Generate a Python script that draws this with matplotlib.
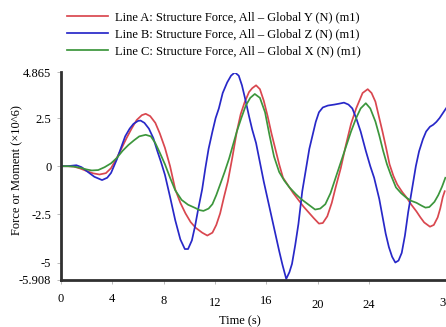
import matplotlib
matplotlib.use("Agg")
import matplotlib.pyplot as plt
from matplotlib.transforms import ScaledTranslation

plt.rcParams['font.family'] = ['Liberation Serif', 'DejaVu Serif']

# Line A (red): Global Y
t_a = [0, 0.5, 1.0, 1.5, 2.0, 2.5, 3.0, 3.5, 3.9, 4.35, 4.7, 5.1, 5.5, 5.9, 6.3, 6.6,
       6.95, 7.35, 7.7, 8.1, 8.5, 8.9, 9.3, 9.7, 10.1, 10.5, 11.0, 11.4, 11.8, 12.1,
       12.4, 12.7, 13.0, 13.35, 13.7, 14.0, 14.3, 14.65, 14.9, 15.2, 15.5, 15.8, 16.1,
       16.4, 16.7, 17.0, 17.3, 17.7, 18.1, 18.5, 18.9, 19.3, 19.7, 20.1, 20.4, 20.75,
       21.1, 21.4, 21.8, 22.2, 22.6, 23.0, 23.5, 23.9, 24.2, 24.5, 24.8, 25.05, 25.35,
       25.6, 25.9, 26.2, 26.6, 26.9, 27.3, 27.7, 28.0, 28.3, 28.75, 29.05, 29.35, 29.55,
       29.75, 29.9]
v_a = [0, 0, -0.02, -0.12, -0.25, -0.37, -0.43, -0.36, -0.1, 0.43, 0.9, 1.45, 1.95,
       2.4, 2.65, 2.72, 2.6, 2.25, 1.7, 0.95, 0.0, -1.2, -1.9, -2.45, -2.9, -3.2, -3.45,
       -3.6, -3.45, -3.05, -2.45, -1.6, -0.8, 0.45, 1.8, 2.7, 3.3, 3.85, 4.05, 4.2, 4.0,
       3.4, 2.6, 1.7, 0.9, 0.1, -0.6, -1.0, -1.4, -1.75, -2.1, -2.4, -2.7, -2.98, -2.95,
       -2.6, -1.9, -1.1, -0.1, 1.1, 2.2, 3.0, 3.8, 4.0, 3.8, 3.35, 2.5, 1.8, 0.9, 0.1,
       -0.5, -0.95, -1.35, -1.6, -2.0, -2.35, -2.65, -2.92, -3.14, -3.05, -2.66, -2.2,
       -1.6, -1.3]

# Line B (blue): Global Z
t_b = [0, 0.5, 0.9, 1.2, 1.6, 2.1, 2.6, 3.2, 3.6, 3.9, 4.35, 4.7, 5.0, 5.35, 5.65, 6.0,
       6.2, 6.5, 6.85, 7.2, 7.5, 7.8, 8.1, 8.5, 8.9, 9.3, 9.65, 9.9, 10.2, 10.45, 10.7,
       11.0, 11.25, 11.5, 11.8, 12.05, 12.3, 12.6, 12.95, 13.25, 13.55, 13.85, 14.1,
       14.35, 14.65, 14.9, 15.2, 15.5, 15.8, 16.1, 16.4, 16.7, 17.0, 17.25, 17.55, 17.8,
       18.0, 18.25, 18.5, 18.8, 19.05, 19.35, 19.6, 19.85, 20.1, 20.4, 20.8, 21.3, 21.7,
       22.05, 22.4, 22.7, 23.0, 23.35, 23.75, 24.1, 24.4, 24.8, 25.05, 25.3, 25.55, 25.8,
       26.05, 26.3, 26.55, 26.8, 27.05, 27.4, 27.65, 27.9, 28.2, 28.45, 28.75, 29.0,
       29.25, 29.5, 29.75, 30.0]
v_b = [0, 0, 0.03, 0.05, -0.05, -0.3, -0.55, -0.72, -0.6, -0.35, 0.35, 1.0, 1.55, 1.95,
       2.2, 2.35, 2.37, 2.25, 1.95, 1.45, 0.8, 0.2, -0.45, -1.6, -2.8, -3.8, -4.3, -4.3,
       -3.85, -3.1, -2.2, -1.2, -0.1, 0.9, 1.8, 2.5, 3.0, 3.8, 4.35, 4.7, 4.87, 4.7, 4.2,
       3.5, 2.6, 1.9, 1.2, 0.2, -0.8, -1.7, -2.6, -3.5, -4.4, -5.1, -5.85, -5.5, -5.07,
       -4.1, -3.0, -1.3, -0.3, 0.9, 1.6, 2.3, 2.8, 3.05, 3.15, 3.2, 3.25, 3.3, 3.2, 3.0,
       2.5, 1.8, 0.8, 0.0, -0.6, -1.7, -2.6, -3.5, -4.2, -4.7, -5.0, -4.9, -4.5, -3.6,
       -2.4, -1.0, 0.0, 0.77, 1.4, 1.8, 2.05, 2.15, 2.3, 2.5, 2.75, 3.0]

# Line C (green): Global X
t_c = [0, 0.5, 1.0, 1.5, 2.0, 2.4, 2.9, 3.4, 3.9, 4.35, 4.8, 5.25, 5.7, 6.1, 6.6, 7.0,
       7.35, 7.7, 8.1, 8.5, 8.9, 9.4, 9.9, 10.4, 10.8, 11.1, 11.5, 11.8, 12.1, 12.4,
       12.75, 13.1, 13.4, 13.7, 14.05, 14.4, 14.75, 15.1, 15.5, 15.9, 16.25, 16.6, 17.0,
       17.4, 17.8, 18.3, 18.7, 19.1, 19.5, 19.8, 20.2, 20.6, 21.0, 21.4, 21.8, 22.2,
       22.6, 23.0, 23.35, 23.75, 24.1, 24.5, 24.8, 25.1, 25.4, 25.7, 26.1, 26.5, 26.9,
       27.3, 27.7, 28.1, 28.4, 28.7, 29.1, 29.4, 29.7, 29.95]
v_c = [0, 0, -0.02, -0.08, -0.17, -0.22, -0.2, -0.05, 0.15, 0.43, 0.8, 1.1, 1.35, 1.55,
       1.63, 1.55, 1.2, 0.7, 0.1, -0.6, -1.25, -1.75, -2.0, -2.15, -2.28, -2.32, -2.2,
       -1.97, -1.5, -0.95, -0.3, 0.4, 1.1, 1.8, 2.5, 3.15, 3.55, 3.75, 3.55, 2.8, 1.6,
       0.5, -0.3, -0.75, -1.1, -1.45, -1.7, -1.9, -2.1, -2.25, -2.2, -1.97, -1.4, -0.6,
       0.2, 1.0, 1.8, 2.5, 3.0, 3.27, 3.0, 2.32, 1.6, 0.8, 0.1, -0.45, -1.1, -1.4, -1.63,
       -1.8, -1.9, -2.05, -2.15, -2.12, -1.85, -1.5, -1.05, -0.6]

labels = ["Line A: Structure Force, All \u2013 Global Y (N) (m1)",
          "Line B: Structure Force, All \u2013 Global Z (N) (m1)",
          "Line C: Structure Force, All \u2013 Global X (N) (m1)"]
colors = ["#d9474f", "#2828c8", "#3c963c"]

x_ticks = [0, 4, 8, 12, 16, 20, 24, 30]
y_ticks = [4.865, 2.5, 0, -2.5, -5, -5.908]
y_ticklabels = ["4.865", "2.5", "0", "-2.5", "-5", "-5.908"]

fig = plt.figure(figsize=(4.46, 3.27), dpi=100)
ax = fig.add_axes([61 / 446, 1 - 280 / 327, 385 / 446, 207.5 / 327])

lines = []
for t, v, c, lab in zip([t_a, t_b, t_c], [v_a, v_b, v_c], colors, labels):
    ln, = ax.plot(t, v, color=c, lw=1.25, label=lab, solid_joinstyle='round')
    lines.append(ln)

ax.set_xlim(0, 30)
ax.set_ylim(-5.908, 4.865)
ax.set_xticks(x_ticks)
ax.set_yticks(y_ticks)
ax.set_yticklabels(y_ticklabels)

for s in ['top', 'right']:
    ax.spines[s].set_visible(False)
for s in ['left', 'bottom']:
    ax.spines[s].set_linewidth(2)
    ax.spines[s].set_color('#303030')
ax.tick_params(length=3, width=0.6, color='#b0b0b0', labelsize=9, pad=4)
ax.tick_params(axis='x', pad=6)

# the x labels sit slightly uneven in the original
x_shift = [0, 0, 3, 4, 3, 6, 6, 4]
for lab, dy in zip(ax.get_xticklabels(), x_shift):
    lab.set_transform(lab.get_transform() + ScaledTranslation(0, -dy / 100, fig.dpi_scale_trans))

ax.set_xlabel("Time (s)", fontsize=9)
ax.xaxis.set_label_coords(0.465, -0.172)
ax.set_ylabel("Force or Moment (\u00d710^6)", fontsize=9)
ax.yaxis.set_label_coords(-0.099, 0.53)

fig.legend(handles=lines, loc='upper left', bbox_to_anchor=(67 / 446, 1 - 11 / 327),
           frameon=False, fontsize=9, handlelength=3.3, handletextpad=0.55,
           labelspacing=0.42, borderpad=0, borderaxespad=0)

fig.savefig("out.png", dpi=100)
